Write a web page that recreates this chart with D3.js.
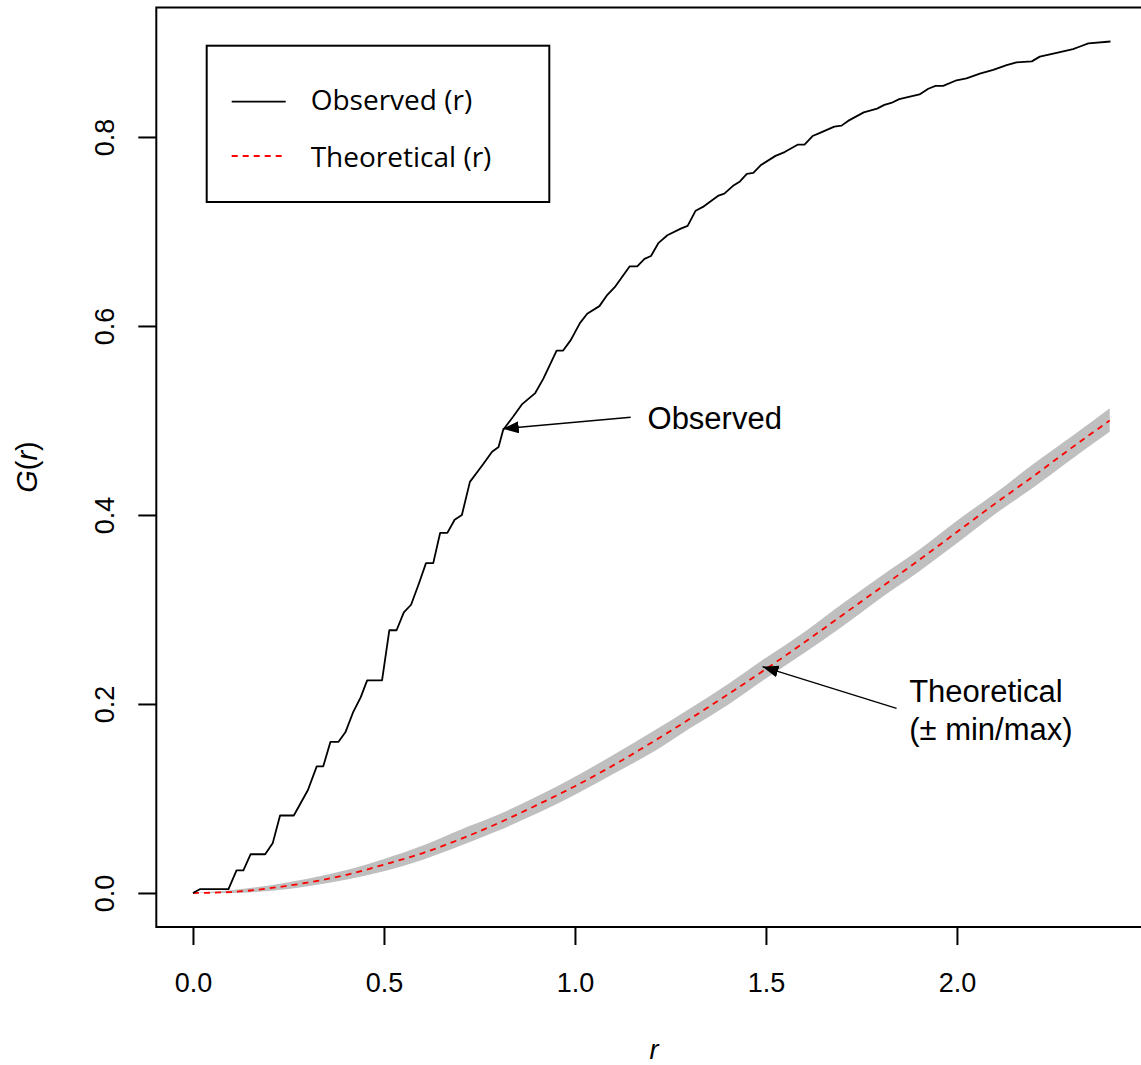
<!DOCTYPE html>
<html>
<head>
<meta charset="utf-8">
<script src="https://cdn.jsdelivr.net/npm/d3@7"></script>
<style>
  body { margin: 0; background: #fff; }
  svg { display: block; }
</style>
</head>
<body>
<script>
// observed G(r) (vertices of the plotted line)
var obsR = [0, 0.018, 0.093, 0.114, 0.132, 0.151, 0.189, 0.209, 0.228, 0.264,
  0.301, 0.324, 0.341, 0.360, 0.381, 0.399, 0.420, 0.439, 0.456, 0.495,
  0.514, 0.533, 0.552, 0.571, 0.592, 0.610, 0.629, 0.647, 0.666, 0.685,
  0.704, 0.725, 0.760, 0.783, 0.800, 0.812, 0.838, 0.861, 0.896, 0.917,
  0.952, 0.969, 0.989, 1.013, 1.032, 1.064, 1.083, 1.106, 1.143, 1.163,
  1.182, 1.199, 1.219, 1.242, 1.277, 1.295, 1.316, 1.335, 1.376, 1.391,
  1.413, 1.432, 1.450, 1.467, 1.486, 1.525, 1.549, 1.584, 1.601, 1.622,
  1.640, 1.679, 1.698, 1.715, 1.756, 1.791, 1.810, 1.828, 1.849, 1.902,
  1.925, 1.944, 1.964, 1.999, 2.025, 2.060, 2.095, 2.130, 2.156, 2.196,
  2.217, 2.261, 2.304, 2.324, 2.344, 2.402];
var obsG = [0, 0.004, 0.004, 0.024, 0.024, 0.041, 0.041, 0.053, 0.082, 0.082,
  0.109, 0.134, 0.134, 0.160, 0.160, 0.170, 0.192, 0.207, 0.225, 0.225,
  0.278, 0.278, 0.297, 0.305, 0.328, 0.349, 0.349, 0.381, 0.381, 0.395,
  0.400, 0.435, 0.454, 0.467, 0.472, 0.490, 0.504, 0.517, 0.529, 0.544,
  0.574, 0.574, 0.585, 0.603, 0.613, 0.621, 0.632, 0.642, 0.663, 0.663,
  0.671, 0.674, 0.688, 0.696, 0.703, 0.706, 0.722, 0.726, 0.738, 0.740,
  0.748, 0.753, 0.761, 0.762, 0.770, 0.780, 0.784, 0.792, 0.792, 0.801,
  0.804, 0.811, 0.812, 0.817, 0.826, 0.830, 0.834, 0.836, 0.840, 0.845,
  0.851, 0.854, 0.854, 0.860, 0.862, 0.867, 0.871, 0.876, 0.879, 0.880,
  0.885, 0.889, 0.893, 0.896, 0.899, 0.901];

// theoretical curve and min/max envelope
var theoR = [0, 0.1, 0.2, 0.3, 0.4, 0.5, 0.6, 0.7, 0.8, 0.9, 1.0, 1.1, 1.2,
  1.3, 1.4, 1.5, 1.6, 1.7, 1.8, 1.9, 2.0, 2.1, 2.2, 2.3, 2.4];
var theoG = [0, 0.001, 0.005, 0.011, 0.019, 0.030, 0.042, 0.057, 0.074, 0.093,
  0.113, 0.135, 0.159, 0.184, 0.210, 0.237, 0.265, 0.294, 0.323, 0.352,
  0.382, 0.412, 0.441, 0.471, 0.500];
var envLo = [0, 0.000, 0.002, 0.007, 0.014, 0.023, 0.035, 0.050, 0.066, 0.084,
  0.104, 0.126, 0.148, 0.174, 0.199, 0.227, 0.254, 0.282, 0.312, 0.340,
  0.370, 0.401, 0.429, 0.459, 0.488];
var envHi = [0, 0.003, 0.008, 0.015, 0.024, 0.036, 0.050, 0.067, 0.083, 0.102,
  0.123, 0.146, 0.170, 0.195, 0.221, 0.249, 0.276, 0.306, 0.335, 0.363,
  0.394, 0.423, 0.454, 0.483, 0.513];

var xTicks = [0, 0.5, 1.0, 1.5, 2.0];
var yTicks = [0, 0.2, 0.4, 0.6, 0.8];

var width = 1141, height = 1065;

var x = d3.scaleLinear().domain([-0.096, 2.496]).range([156.3, 1146.4]);
var y = d3.scaleLinear().domain([-0.036, 0.937]).range([927, 7.5]);

var svg = d3.select("body").append("svg")
    .attr("width", width)
    .attr("height", height);

var sans = "'Liberation Sans', Arial, Helvetica, sans-serif";

// envelope band
var band = theoR.map(function (r, i) { return { r: r, lo: envLo[i], hi: envHi[i] }; });
svg.append("path")
   .datum(band)
   .attr("fill", "#bfbfbf")
   .attr("d", d3.area()
      .curve(d3.curveMonotoneX)
      .x(function (d) { return x(d.r); })
      .y0(function (d) { return y(d.lo); })
      .y1(function (d) { return y(d.hi); }));

// theoretical line
svg.append("path")
   .datum(theoR.map(function (r, i) { return [r, theoG[i]]; }))
   .attr("fill", "none")
   .attr("stroke", "#ff0000")
   .attr("stroke-width", 1.8)
   .attr("stroke-dasharray", "6,5")
   .attr("d", d3.line()
      .curve(d3.curveMonotoneX)
      .x(function (d) { return x(d[0]); })
      .y(function (d) { return y(d[1]); }));

// observed line
svg.append("path")
   .datum(obsR.map(function (r, i) { return [r, obsG[i]]; }))
   .attr("fill", "none")
   .attr("stroke", "#000")
   .attr("stroke-width", 1.8)
   .attr("stroke-linejoin", "round")
   .attr("d", d3.line()
      .x(function (d) { return x(d[0]); })
      .y(function (d) { return y(d[1]); }));

// box
svg.append("rect")
   .attr("x", x(-0.096))
   .attr("y", y(0.937))
   .attr("width", x(2.496) - x(-0.096))
   .attr("height", y(-0.036) - y(0.937))
   .attr("fill", "none")
   .attr("stroke", "#000")
   .attr("stroke-width", 2);

// axes
var xAxis = svg.append("g")
   .attr("transform", "translate(0," + y(-0.036) + ")")
   .call(d3.axisBottom(x).tickValues(xTicks).tickSize(18).tickFormat(d3.format(".1f")));
xAxis.select(".domain").remove();
xAxis.selectAll("line").attr("stroke-width", 2);
xAxis.selectAll("text")
   .attr("y", 64.5).attr("dy", null)
   .style("font-family", sans).style("font-size", "27px").attr("fill", "#000");

var yAxis = svg.append("g")
   .attr("transform", "translate(" + x(-0.096) + ",0)")
   .call(d3.axisLeft(y).tickValues(yTicks).tickSize(18).tickFormat(d3.format(".1f")));
yAxis.select(".domain").remove();
yAxis.selectAll("line").attr("stroke-width", 2);
yAxis.selectAll("text")
   .attr("x", null).attr("dy", null)
   .attr("text-anchor", "middle")
   .attr("transform", "translate(-42,0) rotate(-90)")
   .style("font-family", sans).style("font-size", "27px").attr("fill", "#000");

// axis titles
svg.append("text")
   .attr("x", 654).attr("y", 1059)
   .attr("text-anchor", "middle")
   .style("font-family", sans).style("font-size", "27px").style("font-style", "italic")
   .text("r");

var yl = svg.append("text")
   .attr("transform", "translate(37,467) rotate(-90)")
   .attr("text-anchor", "middle")
   .style("font-family", sans).style("font-size", "29px");
yl.append("tspan").style("font-style", "italic").text("G");
yl.append("tspan").text("(");
yl.append("tspan").style("font-style", "italic").text("r");
yl.append("tspan").text(")");

// legend
var legend = svg.append("g");
legend.append("rect")
   .attr("x", 206.7).attr("y", 45.7)
   .attr("width", 342.6).attr("height", 156.3)
   .attr("fill", "#fff").attr("stroke", "#000").attr("stroke-width", 2);
legend.append("line")
   .attr("x1", 231.7).attr("x2", 285.7).attr("y1", 101.7).attr("y2", 101.7)
   .attr("stroke", "#000").attr("stroke-width", 1.8);
legend.append("line")
   .attr("x1", 231.7).attr("x2", 285.7).attr("y1", 156).attr("y2", 156)
   .attr("stroke", "#ff0000").attr("stroke-width", 1.8).attr("stroke-dasharray", "6,5");
legend.append("text")
   .attr("x", 310.7).attr("y", 110)
   .style("font-family", "'Open Sans', sans-serif").style("font-size", "28px")
   .text("Observed (r)");
legend.append("text")
   .attr("x", 310.7).attr("y", 166.7)
   .style("font-family", "'Open Sans', sans-serif").style("font-size", "28px")
   .text("Theoretical (r)");

// annotations
svg.append("defs").append("marker")
   .attr("id", "head")
   .attr("viewBox", "0 0 16 12")
   .attr("refX", 16).attr("refY", 6)
   .attr("markerWidth", 16).attr("markerHeight", 12)
   .attr("markerUnits", "userSpaceOnUse")
   .attr("orient", "auto")
   .append("path")
   .attr("d", "M0,0 L16,6 L0,12 Z")
   .attr("fill", "#000");

var arrows = [
  { from: [1.146, 0.5034], to: [0.811, 0.4913] },
  { from: [1.842, 0.1954], to: [1.491, 0.2395] }
];
svg.selectAll(".arrow")
   .data(arrows)
   .enter().append("line")
   .attr("class", "arrow")
   .attr("x1", function (d) { return x(d.from[0]); })
   .attr("y1", function (d) { return y(d.from[1]); })
   .attr("x2", function (d) { return x(d.to[0]); })
   .attr("y2", function (d) { return y(d.to[1]); })
   .attr("stroke", "#000")
   .attr("stroke-width", 1.3)
   .attr("marker-end", "url(#head)");

var notes = [
  { r: 1.190, g: 0.4913, text: "Observed" },
  { r: 1.875, g: 0.2026, text: "Theoretical" },
  { r: 1.875, g: 0.1619, text: "(\u00b1 min/max)" }
];
svg.selectAll(".note")
   .data(notes)
   .enter().append("text")
   .attr("class", "note")
   .attr("x", function (d) { return x(d.r); })
   .attr("y", function (d) { return y(d.g); })
   .style("font-family", sans)
   .style("font-size", "31px")
   .text(function (d) { return d.text; });
</script>
</body>
</html>
